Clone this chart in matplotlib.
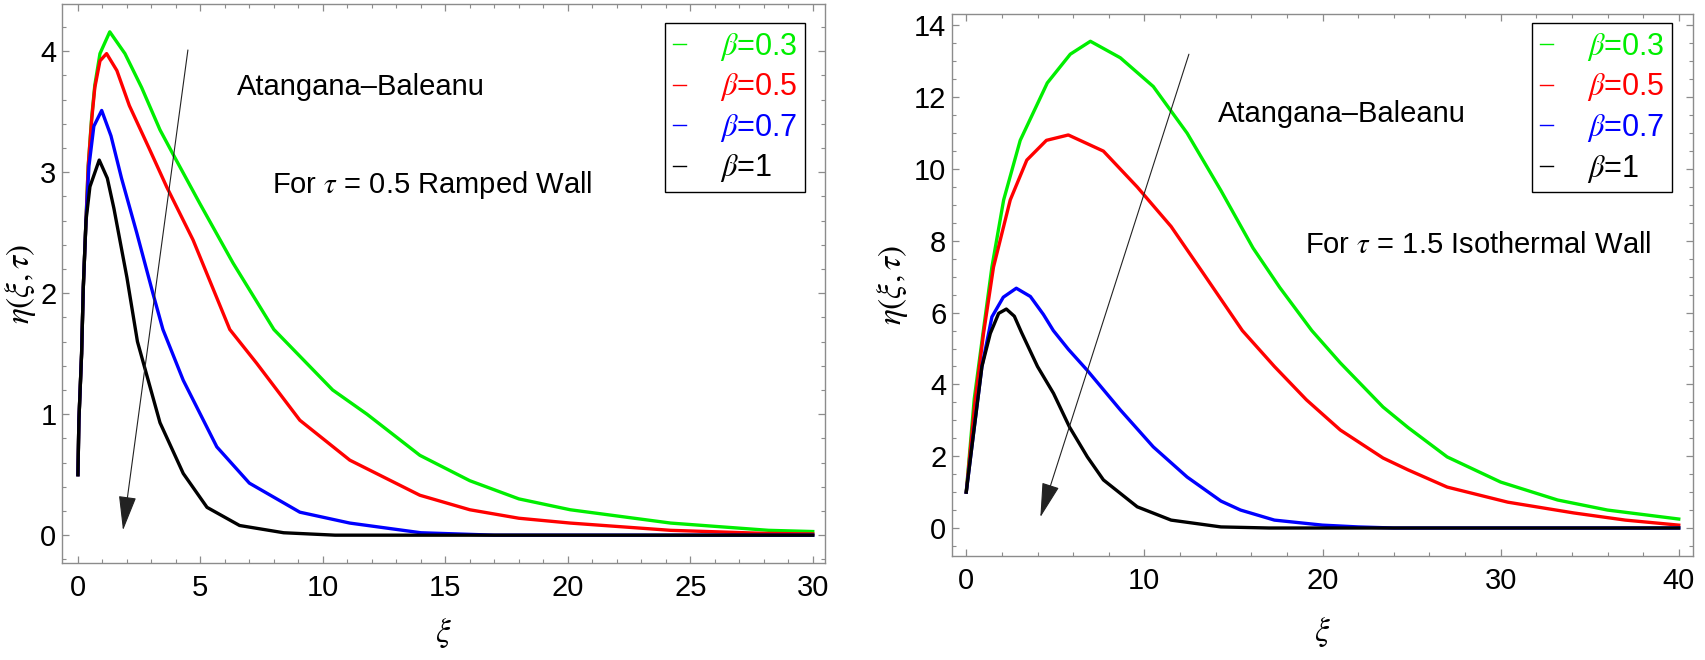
import matplotlib
matplotlib.use("Agg")
import matplotlib.pyplot as plt
from matplotlib.ticker import MultipleLocator

plt.rcParams['font.family'] = ['Liberation Sans', 'DejaVu Sans']
plt.rcParams['mathtext.fontset'] = 'stix'

# ---------------- data: left panel (tau = 0.5, ramped wall) ----------------
xi_L_03 = [0, 0.04, 0.15, 0.22, 0.33, 0.42, 0.56, 0.69, 0.9, 1.3, 1.92, 2.6, 3.35, 3.88,
           4.98, 6.33, 8.0, 10.4, 11.8, 13.96, 16, 18, 20.1, 24.2, 28.2, 30]
eta_L_03 = [0.5, 0.95, 1.5, 2.05, 2.6, 3.05, 3.45, 3.72, 3.98, 4.16, 3.98, 3.7, 3.35, 3.15,
            2.74, 2.25, 1.7, 1.2, 1.0, 0.66, 0.45, 0.30, 0.21, 0.10, 0.04, 0.03]

xi_L_05 = [0, 0.04, 0.15, 0.22, 0.33, 0.42, 0.56, 0.69, 0.9, 1.17, 1.59, 2.1, 2.9, 3.62,
           4.7, 6.2, 7.3, 9.06, 11.1, 13.96, 16, 18, 20.1, 24.2, 28, 30]
eta_L_05 = [0.5, 0.95, 1.5, 2.05, 2.6, 3.05, 3.43, 3.7, 3.92, 3.98, 3.84, 3.55, 3.2, 2.88,
            2.44, 1.7, 1.42, 0.95, 0.62, 0.33, 0.21, 0.14, 0.10, 0.04, 0.015, 0.01]

xi_L_07 = [0, 0.04, 0.15, 0.22, 0.33, 0.45, 0.65, 0.97, 1.35, 1.78, 2.4, 3.06, 3.47, 4.3,
           5.67, 7.0, 9.06, 11.1, 14, 17, 30]
eta_L_07 = [0.5, 0.95, 1.5, 2.05, 2.6, 3.05, 3.38, 3.51, 3.3, 2.95, 2.5, 2.0, 1.7, 1.28,
            0.73, 0.43, 0.19, 0.10, 0.02, 0.0, 0.0]

xi_L_1 = [0, 0.04, 0.15, 0.22, 0.33, 0.49, 0.87, 1.2, 1.47, 2.0, 2.43, 3.35, 4.3, 5.27,
          6.6, 8.4, 10.5, 30]
eta_L_1 = [0.5, 0.95, 1.5, 2.05, 2.6, 2.88, 3.1, 2.95, 2.7, 2.13, 1.6, 0.93, 0.51, 0.23,
           0.08, 0.02, 0.0, 0.0]

# ---------------- data: right panel (tau = 1.5, isothermal wall) ----------------
xi_R_03 = [0, 0.45, 0.96, 1.44, 2.1, 3.03, 4.55, 5.84, 6.97, 8.65, 10.5, 12.4, 14.3, 16.1,
           17.6, 19.4, 21.0, 23.4, 24.8, 27.0, 30.0, 33.2, 36.0, 40]
eta_R_03 = [1.0, 3.6, 5.5, 7.27, 9.14, 10.8, 12.4, 13.2, 13.56, 13.1, 12.3, 11.0, 9.4, 7.8,
            6.7, 5.5, 4.6, 3.37, 2.8, 1.98, 1.28, 0.78, 0.5, 0.25]

xi_R_05 = [0, 0.5, 0.97, 1.53, 2.47, 3.4, 4.5, 5.73, 7.7, 9.6, 11.5, 13.3, 15.5, 17.3,
           19.1, 21.0, 23.4, 24.8, 27.0, 30.4, 34.1, 37, 40]
eta_R_05 = [1.0, 3.56, 5.42, 7.27, 9.14, 10.25, 10.8, 10.95, 10.5, 9.5, 8.4, 7.1, 5.5, 4.5,
            3.57, 2.73, 1.95, 1.62, 1.14, 0.72, 0.42, 0.22, 0.08]

xi_R_07 = [0, 0.41, 0.88, 1.44, 2.08, 2.81, 3.6, 4.33, 4.89, 5.73, 6.78, 8.65, 10.5, 12.4,
           14.3, 15.4, 17.3, 20, 22, 24, 40]
eta_R_07 = [1.0, 2.64, 4.5, 5.88, 6.43, 6.68, 6.45, 5.95, 5.5, 4.98, 4.4, 3.29, 2.26, 1.42,
            0.75, 0.5, 0.22, 0.08, 0.03, 0.0, 0.0]

xi_R_1 = [0, 0.41, 0.88, 1.35, 1.82, 2.25, 2.7, 3.1, 4.0, 4.9, 5.8, 6.8, 7.7, 9.6, 11.5,
          14.3, 17, 40]
eta_R_1 = [1.0, 2.64, 4.5, 5.42, 5.98, 6.1, 5.9, 5.45, 4.5, 3.75, 2.81, 1.98, 1.34, 0.59,
           0.22, 0.03, 0.0, 0.0]

labels = [r'$\beta$=0.3', r'$\beta$=0.5', r'$\beta$=0.7', r'$\beta$=1']
colors = ['#00ee00', '#ff0000', '#0000ff', '#000000']

fig = plt.figure(figsize=(17.05, 6.6), dpi=100)
axL = fig.add_axes([62 / 1705, 1 - 563 / 660, 763 / 1705, 559 / 660])
axR = fig.add_axes([952 / 1705, 1 - 556 / 660, 741 / 1705, 542 / 660])

left_series = [(xi_L_03, eta_L_03), (xi_L_05, eta_L_05), (xi_L_07, eta_L_07), (xi_L_1, eta_L_1)]
right_series = [(xi_R_03, eta_R_03), (xi_R_05, eta_R_05), (xi_R_07, eta_R_07), (xi_R_1, eta_R_1)]

for ax, series in ((axL, left_series), (axR, right_series)):
    for (x, y), c, lab in zip(series, colors, labels):
        ax.plot(x, y, color=c, lw=2.4, label=lab, solid_joinstyle='round')

axL.set_xlim(-0.65, 30.5)
axL.set_ylim(-0.23, 4.39)
axL.xaxis.set_major_locator(MultipleLocator(5))
axL.xaxis.set_minor_locator(MultipleLocator(1))
axL.yaxis.set_major_locator(MultipleLocator(1))
axL.yaxis.set_minor_locator(MultipleLocator(0.2))

axR.set_xlim(-0.8, 40.8)
axR.set_ylim(-0.78, 14.32)
axR.xaxis.set_major_locator(MultipleLocator(10))
axR.xaxis.set_minor_locator(MultipleLocator(2))
axR.yaxis.set_major_locator(MultipleLocator(2))
axR.yaxis.set_minor_locator(MultipleLocator(0.5))

for ax in (axL, axR):
    for s in ax.spines.values():
        s.set_color('#8c8c8c')
        s.set_linewidth(1.0)
    ax.tick_params(which='both', direction='in', top=True, right=True, color='#8c8c8c',
                   labelsize=21, labelcolor='black')
    ax.tick_params(which='major', length=5, width=0.9)
    ax.tick_params(which='minor', length=3, width=0.8)
    ax.tick_params(axis='x', which='major', pad=8)
    ax.tick_params(axis='y', which='major', pad=4)
    ax.set_xlabel(r'$\xi$', fontsize=24, va='center')
    ax.set_ylabel(r'$\eta(\xi,\tau)$', fontsize=24, va='center')
    leg = ax.legend(loc='upper right', fontsize=22, handlelength=0.45, handletextpad=1.1,
                    labelspacing=0.28, borderpad=0.25, fancybox=False, framealpha=1,
                    edgecolor='black', borderaxespad=0, labelcolor='linecolor')
    leg.get_frame().set_linewidth(1.0)
    for h in leg.get_lines():
        h.set_linewidth(1.0)

axL.legend_.set_bbox_to_anchor((0.974, 0.966), transform=axL.transAxes)
axR.legend_.set_bbox_to_anchor((0.972, 0.983), transform=axR.transAxes)

axL.xaxis.set_label_coords(0.5, -0.125)
axL.yaxis.set_label_coords(-0.055, 0.5)
axR.xaxis.set_label_coords(0.5, -0.14)
axR.yaxis.set_label_coords(-0.080, 0.5)

axL.text(0.229, 0.837, 'Atangana\u2013Baleanu', transform=axL.transAxes, fontsize=21,
         ha='left', va='baseline')
axL.text(0.275, 0.662, r'For $\tau$ = 0.5 Ramped Wall', transform=axL.transAxes, fontsize=21,
         ha='left', va='baseline')
axR.text(0.359, 0.801, 'Atangana\u2013Baleanu', transform=axR.transAxes, fontsize=21,
         ha='left', va='baseline')
axR.text(0.476, 0.559, r'For $\tau$ = 1.5 Isothermal Wall', transform=axR.transAxes, fontsize=21,
         ha='left', va='baseline')

arrow = dict(arrowstyle='-|>,head_length=1.1,head_width=0.28', lw=0.8, color='#222222',
             shrinkA=0, shrinkB=0, mutation_scale=20)
axL.annotate('', xy=(1.84, 0.04), xytext=(4.49, 4.01), arrowprops=arrow)
axR.annotate('', xy=(4.16, 0.3), xytext=(12.5, 13.2), arrowprops=arrow)

fig.savefig('out.png', dpi=100)
